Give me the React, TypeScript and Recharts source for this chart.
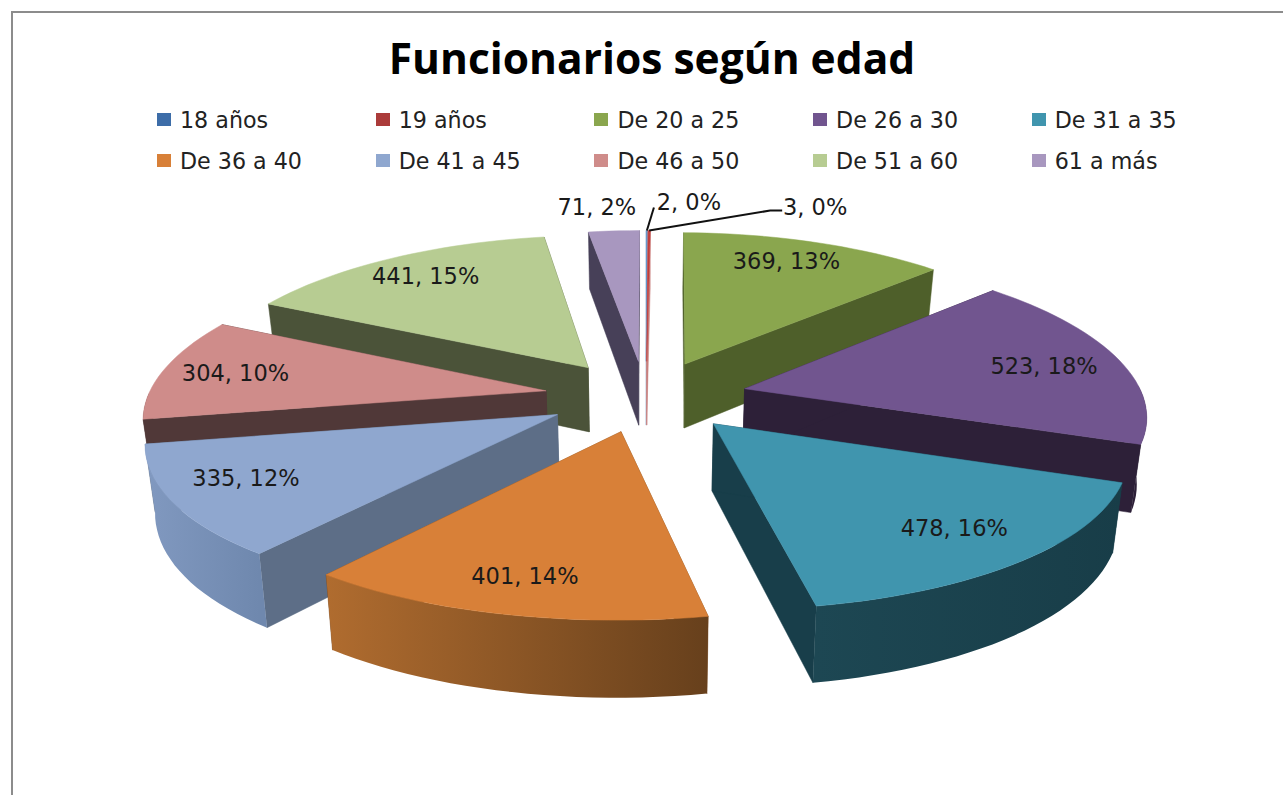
import React from 'react';
import { PieChart, Pie, Legend } from 'recharts';

const categories = ['18 años', '19 años', 'De 20 a 25', 'De 26 a 30', 'De 31 a 35', 'De 36 a 40', 'De 41 a 45', 'De 46 a 50', 'De 51 a 60', '61 a más'];
const counts = [2, 3, 369, 523, 478, 401, 335, 304, 441, 71];
const shares = [0, 0, 13, 18, 16, 14, 12, 10, 15, 2];

const legendColors = ['#3d6da8', '#ab3b3a', '#8aa64e', '#71558f', '#4095ae', '#d88038', '#8fa7cf', '#cf8c8a', '#b7cc92', '#a897bf'];
const topColors = ['#5b8ec6', '#c23f3c', '#8aa64e', '#71558f', '#4095ae', '#d88038', '#8fa7cf', '#cf8c8a', '#b7cc92', '#a897bf'];
const cutColors = ['#a9bdd8', '#c9807e', '#4e5f2a', '#2d2038', '#183e4a', '#7a4a20', '#5d6e87', '#503838', '#4b5339', '#474058'];
const wallFrom = ['#a9bdd8', '#c9807e', '#4e5f2a', '#2d2038', '#1d4753', '#b06c2f', '#8199c0', '#503838', '#4b5339', '#474058'];
const wallTo = ['#a9bdd8', '#c9807e', '#4e5f2a', '#2d2038', '#183d48', '#67401c', '#6f88ae', '#503838', '#4b5339', '#474058'];

// label centre: distance along the slice's mid angle, then a small nudge in px
const labelSpots: [number, number, number][] = [
  [1.0, 42, -29], [1.0, 166, -24], [0.75, 1, -9], [0.75, 18, 0], [0.75, 17, 4],
  [0.75, -10, 12], [0.75, -29, -2], [0.75, -23, -1], [0.75, -11, -8], [1.0, -17, -24],
];

const data = categories.map((name, i) => ({ name, value: counts[i], share: shares[i], idx: i }));
const dataBackwards = [...data].reverse();

const TILT = 0.39;
const PERSPECTIVE_X = 0.15;
const PERSPECTIVE_Y = 0.125;
const EXPLODE_X = 0.255;
const EXPLODE_Y = 0.23;
const DEPTH = 0.165;
const SHRINK = 0.98;

const rad = (deg: number) => (deg * Math.PI) / 180;

// slice-local polar point -> screen point of the tilted pie
const project = (cx: number, cy: number, R: number, mid: number, angle: number, r: number, drop = false) => {
  const X = EXPLODE_X * Math.cos(rad(mid)) + r * Math.cos(rad(angle));
  const Y = EXPLODE_Y * Math.sin(rad(mid)) + r * Math.sin(rad(angle));
  const sx = 1 / (1 + PERSPECTIVE_X * Y);
  const sy = 1 / (1 + PERSPECTIVE_Y * Y);
  const x = R * X * sx;
  const y = -R * TILT * Y * sy;
  if (!drop) return [cx + x, cy + y];
  return [cx + x * SHRINK, cy + y + R * DEPTH * sy];
};

const toPath = (pts: number[][]) => 'M' + pts.map((p) => `${p[0].toFixed(1)},${p[1].toFixed(1)}`).join('L') + 'Z';

const Slice3D = (props: any, group: 'right' | 'left') => {
  const { cx, cy, outerRadius, startAngle, endAngle, midAngle, payload } = props;
  const i = payload.idx;
  if ((group === 'right') !== (i < 5)) return <g />;
  const lo = Math.min(startAngle, endAngle);
  const hi = Math.max(startAngle, endAngle);
  const steps = Math.max(2, Math.ceil((hi - lo) / 2));
  const angles = Array.from({ length: steps + 1 }, (_, k) => lo + ((hi - lo) * k) / steps);
  const P = (a: number, r: number, drop = false) => project(cx, cy, outerRadius, midAngle, a, r, drop);
  const arc = angles.map((a) => P(a, 1));

  const cut = (a: number) => toPath([P(a, 0), P(a, 1), P(a, 1, true), P(a, 0, true)]);
  const front = angles.filter((a) => Math.sin(rad(a)) < 0.02);
  let wall = null;
  if (front.length > 1) {
    const upper = front.map((a) => P(a, 1));
    const lower = front.map((a) => P(a, 1, true)).reverse();
    const xs = upper.map((p) => p[0]);
    const id = `wall-${i}`;
    wall = (
      <>
        <defs>
          <linearGradient id={id} gradientUnits="userSpaceOnUse" x1={Math.min(...xs)} x2={Math.max(...xs)} y1={0} y2={0}>
            <stop offset="0%" stopColor={wallFrom[i]} />
            <stop offset="100%" stopColor={wallTo[i]} />
          </linearGradient>
        </defs>
        <path d={toPath([...upper, ...lower])} fill={`url(#${id})`} />
      </>
    );
  }
  return (
    <g>
      <path d={cut(lo)} fill={cutColors[i]} stroke={cutColors[i]} strokeWidth={0.5} />
      <path d={cut(hi)} fill={cutColors[i]} stroke={cutColors[i]} strokeWidth={0.5} />
      {wall}
      <path d={toPath([P(lo, 0), ...arc])} fill={topColors[i]} stroke={topColors[i]} strokeWidth={0.5} />
    </g>
  );
};

const sliceLabel = (props: any) => {
  const { cx, cy, outerRadius, midAngle, payload } = props;
  const i = payload.idx;
  const [r, dx, dy] = labelSpots[i];
  const [x0, y0] = project(cx, cy, outerRadius, midAngle, midAngle, r);
  const x = x0 + dx;
  const y = y0 + dy;
  return (
    <g>
      {i === 0 && <polyline points={`${x0},${y0} ${x - 35},${y + 6}`} fill="none" stroke="#111" strokeWidth={2} />}
      {i === 1 && <polyline points={`${x0},${y0} ${x - 45},${y + 4} ${x - 33},${y + 4}`} fill="none" stroke="#111" strokeWidth={2} />}
      <text x={x} y={y} textAnchor="middle" dominantBaseline="central" fontFamily="DejaVu Sans" fontSize={22.5} fill="#1a1a1a">
        {`${payload.value}, ${payload.share}%`}
      </text>
    </g>
  );
};

const LegendGrid = () => (
  <div style={{ display: 'grid', gridTemplateColumns: 'repeat(5, 218.7px)', gridAutoRows: '41px', fontFamily: 'DejaVu Sans', fontSize: 22.2, color: '#222' }}>
    {categories.map((name, i) => (
      <div key={name} style={{ display: 'flex', alignItems: 'center', whiteSpace: 'nowrap' }}>
        <span style={{ width: 14, height: 13, background: legendColors[i], marginRight: 9 }} />
        {name}
      </div>
    ))}
  </div>
);

export default function App() {
  return (
    <div style={{ position: 'absolute', left: 0, top: 0, width: 1283, height: 795, overflow: 'hidden', background: '#fff' }}>
      <div style={{ position: 'absolute', left: 11, top: 11, width: 1272, height: 784, borderLeft: '2px solid #8c8c8c', borderTop: '2px solid #8c8c8c', boxSizing: 'border-box' }} />
      <PieChart width={1283} height={795} style={{ position: 'absolute', left: 0, top: 0 }}>
        <text x={652} y={57} textAnchor="middle" dominantBaseline="central" fontFamily="Open Sans" fontWeight={700} fontSize={42.5} fill="#000">
          Funcionarios según edad
        </text>
        <Legend content={<LegendGrid />} wrapperStyle={{ left: 157, top: 99, width: 1110, bottom: 'auto' }} />
        <Pie
          data={data}
          dataKey="value"
          nameKey="name"
          cx={641}
          cy={391}
          outerRadius={398}
          startAngle={90}
          endAngle={-270}
          stroke="none"
          labelLine={false}
          shape={(p: any) => Slice3D(p, 'right')}
          isAnimationActive={false}
        />
        <Pie
          data={dataBackwards}
          dataKey="value"
          nameKey="name"
          cx={641}
          cy={391}
          outerRadius={398}
          startAngle={90}
          endAngle={450}
          stroke="none"
          labelLine={false}
          label={sliceLabel}
          shape={(p: any) => Slice3D(p, 'left')}
          isAnimationActive={false}
        />
      </PieChart>
    </div>
  );
}
